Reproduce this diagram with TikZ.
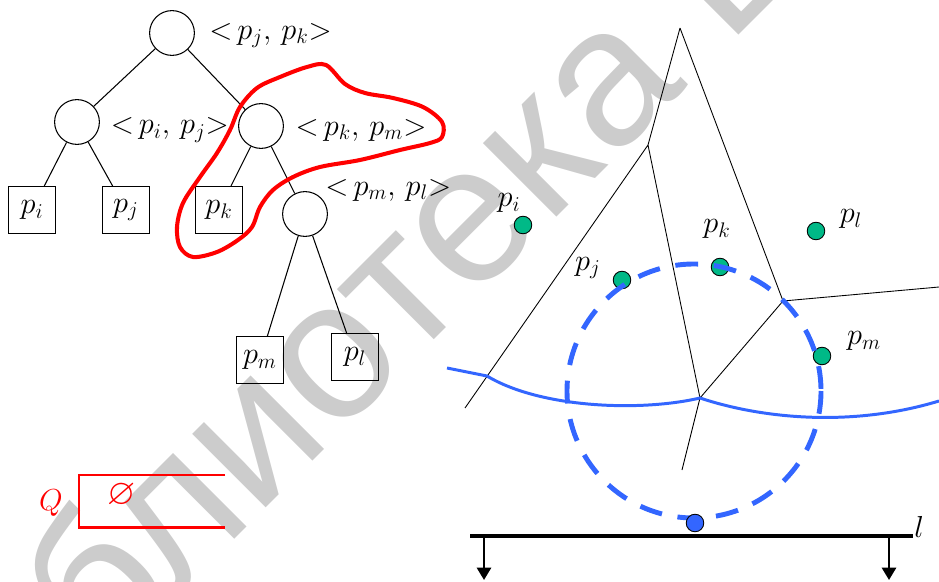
\documentclass[tikz,border=0pt]{standalone}
\usepackage{fontspec}
\usepackage{amssymb}
\usetikzlibrary{arrows.meta, positioning}
\newfontfamily\markfont{Liberation Sans}
\definecolor{sitegreen}{RGB}{0,185,135}
\definecolor{beachblue}{RGB}{51,102,255}
\definecolor{markgray}{RGB}{204,204,204}
\tikzset{
  treenode/.style={circle, draw, line width=0.6pt, minimum size=25.5pt, inner sep=0pt},
  leaf/.style={rectangle, draw, line width=0.8pt, minimum size=26.5pt, inner sep=0pt, font=\fontsize{18}{21}\selectfont},
  tag/.style={inner sep=0pt, font=\fontsize{18}{21}\selectfont},
  site/.style={circle, draw, line width=0.5pt, fill=sitegreen, minimum size=10pt, inner sep=0pt},
  cell/.style={line width=0.5pt},
  beach/.style={beachblue, line width=1.7pt},
}
\newcommand{\pair}[2]{\mathord{<}\,#1,\,#2\mathord{>}}

\begin{document}
\begin{tikzpicture}[x=0.02cm, y=-0.02cm]
\useasboundingbox (0,0) rectangle (939,581);
% watermark
\begin{scope}
  \clip (0,0) rectangle (939,581);
  \node[anchor=base west, rotate=45, text=markgray, inner sep=0pt,
        font=\markfont\fontsize{112}{120}\selectfont] (mark) at (-56,830) {библиотека БГУИР};
\end{scope}

% tree
\node[treenode] (root) at (172,33) {};
\node[treenode] (ij) at (77,122) {};
\node[treenode] (km) at (261,126) {};
\node[treenode] (ml) at (305,214) {};
\node[leaf] (pi) at (32,210) {$p_i$};
\node[leaf] (pj) at (126,210) {$p_j$};
\node[leaf] (pk) at (219,210) {$p_k$};
\node[leaf] (pm) at (260,360) {$p_m$};
\node[leaf] (pl) at (355,357) {$p_l$};
\draw[line width=0.6pt] (root) -- (ij) (root) -- (km)
  (ij) -- (pi) (ij) -- (pj) (km) -- (pk) (km) -- (ml)
  (ml) -- (pm) (ml) -- (pl);
\node[tag, right=8pt of root, yshift=-1.5pt] (troot) {$\pair{p_j}{p_k}$};
\node[tag, right=6pt of ij, yshift=-4.5pt] (tij) {$\pair{p_i}{p_j}$};
\node[tag, right=6.5pt of km, yshift=-2.3pt] (tkm) {$\pair{p_k}{p_m}$};
\node[tag, anchor=west] (tml) at (325,190) {$\pair{p_m}{p_l}$};

% red outline round the subtree
\draw[red, line width=2.3pt] plot[smooth cycle, tension=0.55] coordinates {
  (326,65) (345,84) (365,93) (393,98) (423,107) (442,122) (442,137) (430,143)
  (400,150) (360,160) (320,167) (293,177) (273,190) (260,207) (252,227)
  (238,240) (217,252) (193,257) (180,247) (177,227) (183,203) (200,177)
  (217,153) (230,130) (240,107) (257,88) (280,77) (307,67)};

% queue
\node[tag, text=red] (q) at (51,503) {$Q$};
\node[tag, text=red, scale=1.15] (empty) at (122,495) {$\varnothing$};
\coordinate (qa) at (225,475);
\coordinate (qb) at (225,527);
\draw[red, line width=1.7pt] (qa) -| (79,527) -- (qb);

% voronoi cells
\coordinate (vA) at (680,28);
\coordinate (vB) at (648,145);
\coordinate (vC) at (783,301);
\coordinate (vD) at (700,398);
\coordinate (eB) at (465,408);
\coordinate (eC) at (939,287);
\coordinate (eD) at (682,470);
\draw[cell] (vA) -- (vB) -- (eB) (vB) -- (vD) -- (eD)
  (vA) -- (vC) -- (eC) (vC) -- (vD);

% sites
\node[site] (si) at (523,225) {};
\node[site] (sj) at (622,280) {};
\node[site] (sk) at (720,267) {};
\node[site] (sl) at (816,231) {};
\node[site] (sm) at (822,356) {};
\node[tag] (li) at (509,203) {$p_i$};
\node[tag] (lj) at (588,268) {$p_j$};
\node[tag] (lk) at (717,229) {$p_k$};
\node[tag] (ll) at (851,219) {$p_l$};
\node[tag] (lm) at (864,341) {$p_m$};

% beach line
\coordinate (bL) at (447,368);
\coordinate (bc) at (487,376);
\coordinate (bR) at (939,401);
\draw[beach] (bL) -- (bc) .. controls (540,408) and (640,412) .. (vD)
  .. controls (760,418) and (850,428) .. (bR);

% empty circle
\coordinate (cc) at (694,391);
\draw[beachblue, line width=2.8pt, dash pattern=on 13pt off 9pt] (cc) circle[radius=127];

% sweep line
\coordinate (swL) at (470,536);
\coordinate (swR) at (913,536);
\draw[line width=2.3pt] (swL) -- (swR);
\node[tag, anchor=west] (lsw) at (914,527) {$l$};
\coordinate (d1) at (484,536);
\coordinate (d1e) at (484,580);
\coordinate (d2) at (889,536);
\coordinate (d2e) at (889,580);
\draw[line width=1.4pt, -{Triangle[length=7pt, width=8pt]}] (d1) -- (d1e);
\draw[line width=1.4pt, -{Triangle[length=7pt, width=8pt]}] (d2) -- (d2e);
\node[circle, draw, line width=0.5pt, fill=beachblue, minimum size=10pt, inner sep=0pt] (ev) at (695,523) {};
\end{tikzpicture}
\end{document}
